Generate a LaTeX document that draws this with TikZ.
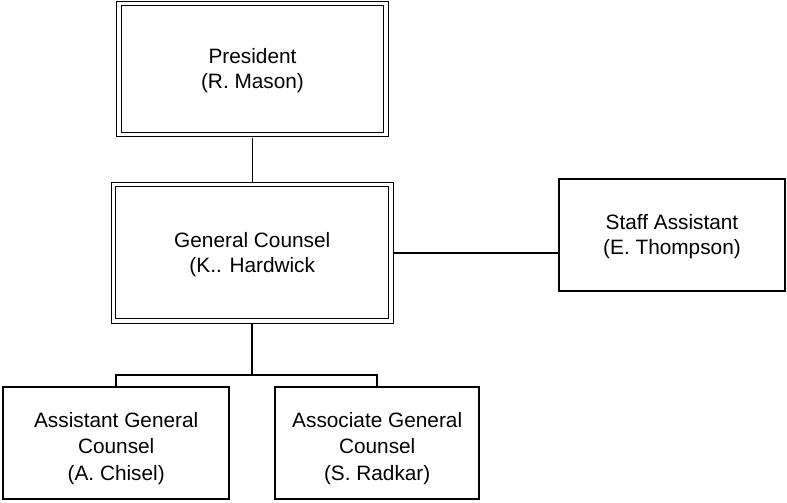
\documentclass[tikz,border=0pt]{standalone}
\usepackage{fontspec}
\setmainfont{Liberation Sans}

\begin{document}
\begin{tikzpicture}[x=1pt, y=-1pt,
        box/.style={draw, line width=1.8pt, align=center, inner sep=0pt,
            font=\fontsize{20.8}{25}\selectfont, text height=43.5pt, text depth=4.4pt},
        headbox/.style={box, line width=1.4pt, double, double distance=3.1pt, outer sep=3pt},
        lowbox/.style={box, font=\fontsize{20.8}{26.5}\selectfont, text height=78.8pt},
        link/.style={line width=1.6pt}]
        \useasboundingbox (0,0) rectangle (787,503);
        \node[headbox, minimum width=267pt, minimum height=131pt] (president) at (252.5,69) {President\\(R. Mason)};
        \node[headbox, minimum width=277.5pt, minimum height=136.5pt] (counsel) at (252.25,252.75) {General Counsel\\(K.. Hardwick};
        \node[box, minimum width=225.4pt, minimum height=112pt] (staff) at (672,235.3) {Staff Assistant\\(E. Thompson)};
        \node[lowbox, minimum width=225.7pt, minimum height=112.3pt] (assistant) at (116.2,442.8) {Assistant General\\Counsel\\(A. Chisel)};
        \node[lowbox, minimum width=203.7pt, minimum height=112.3pt] (associate) at (377.2,442.8) {Associate General\\Counsel\\(S. Radkar)};
        \coordinate (bus) at (252.25,375);
        \draw[link] (president.south) -- (president.south |- counsel.north);
        \draw[link] (counsel.east) -- (counsel.east -| staff.west);
        \draw[link] (counsel.south) -- (bus);
        \draw[link] (assistant.north) |- (bus) -| (associate.north);
    \end{tikzpicture}
\end{document}
